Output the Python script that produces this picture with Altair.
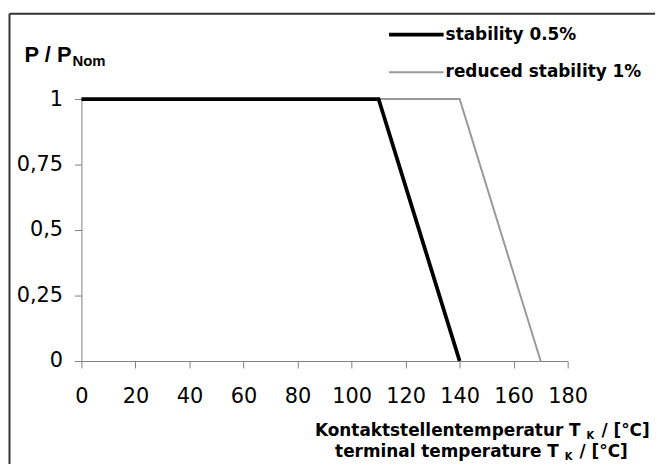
import altair as alt
import pandas as pd

# ---- data ----
series_names = ["stability 0.5%", "reduced stability 1%"]
series_colors = ["#000000", "#999999"]
series_widths = [3.8, 2]

stab_T = [0, 110, 140]
stab_P = [1, 1, 0]
red_T = [0, 140, 170]
red_P = [1, 1, 0]

x_ticks = [0, 20, 40, 60, 80, 100, 120, 140, 160, 180]
y_ticks = [0, 0.25, 0.5, 0.75, 1]

y_title_parts = ["P / P", "Nom"]
x_title_line1 = ["Kontaktstellentemperatur T", "K", "/ [°C]"]
x_title_line2 = ["terminal temperature T", "K", "/ [°C]"]

df_stab = pd.DataFrame({"T": stab_T, "P": stab_P, "series": series_names[0]})
df_red = pd.DataFrame({"T": red_T, "P": red_P, "series": series_names[1]})

color_scale = alt.Scale(domain=series_names, range=series_colors)
width_scale = alt.Scale(domain=series_names, range=series_widths)

AX = "#808080"
TICK_FONT = "DejaVu Sans"
LABEL_FONT = "Liberation Sans"
BOLD_FONT = "DejaVu Sans"

x_enc = alt.X(
    "T:Q",
    scale=alt.Scale(domain=[0, 180], nice=False),
    axis=alt.Axis(values=x_ticks, title=None, grid=False, labelFont=TICK_FONT,
                  labelFontSize=21, labelColor="#000000", domainColor=AX,
                  tickColor=AX, tickSize=7, labelPadding=18, labelFlush=False,
                  labelOverlap=False),
)
y_enc = alt.Y(
    "P:Q",
    scale=alt.Scale(domain=[0, 1], nice=False),
    axis=alt.Axis(values=y_ticks, title=None, grid=False, labelFont=TICK_FONT,
                  labelFontSize=21, labelColor="#000000", domainColor=AX,
                  tickColor=AX, tickSize=7, labelPadding=12,
                  labelExpr="replace(toString(datum.value), '.', ',')"),
)


def line_layer(df):
    return alt.Chart(df).mark_line(strokeJoin="miter").encode(
        x=x_enc, y=y_enc,
        color=alt.Color("series:N", scale=color_scale, legend=None),
        strokeWidth=alt.StrokeWidth("series:N", scale=width_scale, legend=None),
    )


main = alt.layer(line_layer(df_red), line_layer(df_stab))

# legend rows (drawn by hand, text taken from the series names)
legend_rows_y = [-65, -27]
legend_layers = []
for name, ry in zip(series_names, legend_rows_y):
    d = pd.DataFrame({"series": [name]})
    legend_layers.append(
        alt.Chart(d).mark_rule().encode(
            x=alt.value(310), x2=alt.value(365), y=alt.value(ry),
            color=alt.Color("series:N", scale=color_scale, legend=None),
            strokeWidth=alt.StrokeWidth("series:N", scale=width_scale, legend=None),
        )
    )
    legend_layers.append(
        alt.Chart(d).mark_text(
            align="left", baseline="middle", font=BOLD_FONT, fontWeight="bold",
            fontSize=17, color="#000000"
        ).encode(x=alt.value(367), y=alt.value(ry), text="series:N")
    )

one = pd.DataFrame({"a": [0]})
border_top = alt.Chart(one).mark_rule(color="#333333", strokeWidth=2).encode(
    x=alt.value(-72.5), x2=alt.value(580), y=alt.value(-86))
border_left = alt.Chart(one).mark_rule(color="#333333", strokeWidth=2).encode(
    x=alt.value(-72.5), y=alt.value(-86), y2=alt.value(370))


def txt(s, x, y, size, align, font, weight):
    d = pd.DataFrame({"t": [s]})
    return alt.Chart(d).mark_text(align=align, baseline="alphabetic", font=font,
                                  fontWeight=weight, fontSize=size, color="#000000").encode(
        x=alt.value(x), y=alt.value(y), text="t:N")


texts = [
    txt(y_title_parts[0], -10, -37, 22, "right", LABEL_FONT, "bold"),
    txt(y_title_parts[1], -9, -33, 15, "left", LABEL_FONT, "bold"),
    txt(x_title_line1[0], 503, 340, 17, "right", BOLD_FONT, "bold"),
    txt(x_title_line1[1], 509, 343, 10, "left", BOLD_FONT, "bold"),
    txt(x_title_line1[2], 524, 340, 17, "left", BOLD_FONT, "bold"),
    txt(x_title_line2[0], 481, 361, 17, "right", BOLD_FONT, "bold"),
    txt(x_title_line2[1], 487, 364, 10, "left", BOLD_FONT, "bold"),
    txt(x_title_line2[2], 502, 361, 17, "left", BOLD_FONT, "bold"),
]

chart = alt.layer(
    border_top, border_left, main, *legend_layers, *texts
).properties(
    width=490, height=264,
    autosize=alt.AutoSizeParams(type="none"),
    padding={"left": 74, "top": 90, "right": 88, "bottom": 102},
    background="white",
).configure_view(stroke=None)

chart.save("out.html", embed_options={"renderer": "svg", "actions": False})
